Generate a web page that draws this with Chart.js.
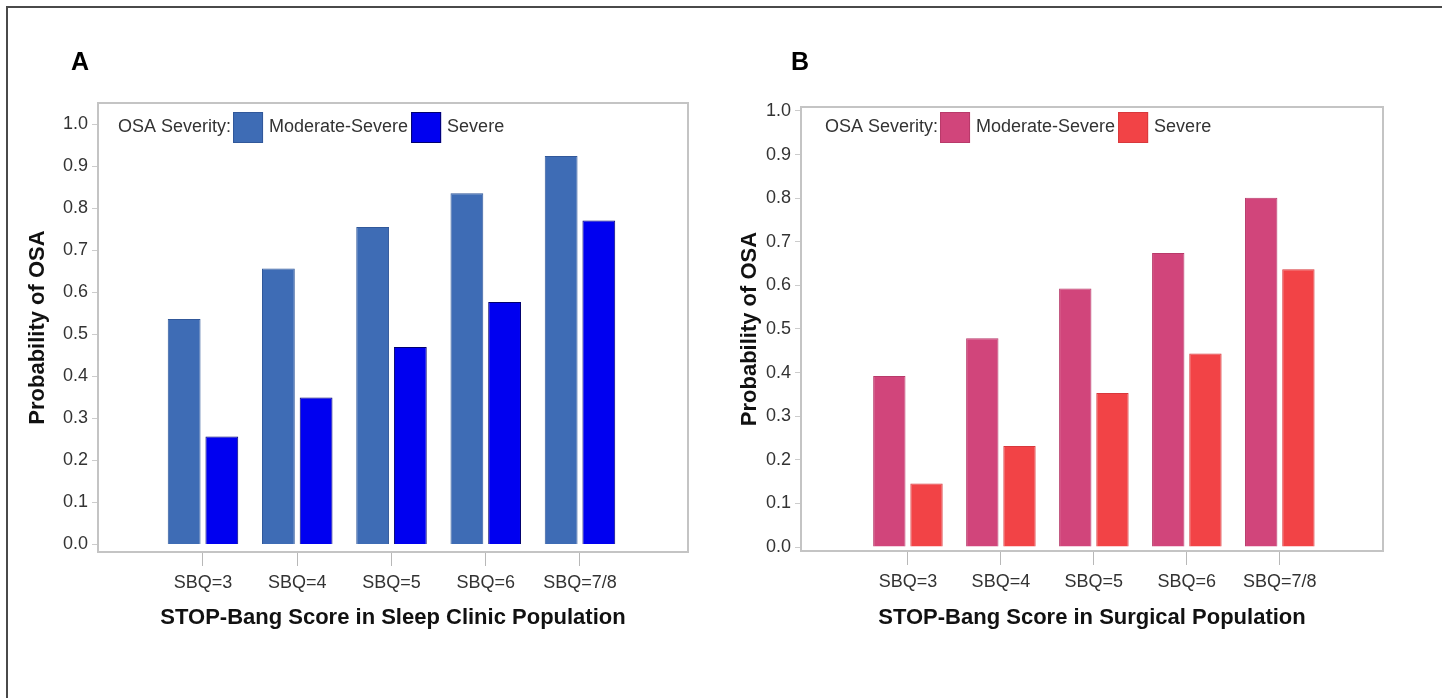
<!DOCTYPE html>
<html>
<head>
<meta charset="utf-8">
<script src="https://cdn.jsdelivr.net/npm/chart.js@4.4.1/dist/chart.umd.min.js"></script>
<style>
  body { margin: 0; background: #fff; width: 1445px; height: 698px; overflow: hidden; position: relative; font-family: "Liberation Sans", Arial, sans-serif; }
  #frame { position: absolute; left: 6px; top: 6px; width: 1434px; height: 700px; border-left: 2px solid #4a4a4a; border-top: 2px solid #4a4a4a; }
  .panel { position: absolute; top: 0; }
  .letter { position: absolute; font-weight: bold; font-size: 25px; line-height: 25px; color: #000; z-index: 2; }
</style>
</head>
<body>
<div id="frame"></div>
<canvas id="chartA" class="panel" style="left:0" width="722" height="698"></canvas>
<canvas id="chartB" class="panel" style="left:722px" width="723" height="698"></canvas>
<div class="letter" style="left:71px;top:49px">A</div>
<div class="letter" style="left:791px;top:49px">B</div>
<script>
const categories = ["SBQ=3", "SBQ=4", "SBQ=5", "SBQ=6", "SBQ=7/8"];
const seriesNames = ["Moderate-Severe", "Severe"];
const legendTitle = "OSA Severity:";
const yTicks = [0.0, 0.1, 0.2, 0.3, 0.4, 0.5, 0.6, 0.7, 0.8, 0.9, 1.0];

// panel A - sleep clinic
const sleepModSevere = [0.537, 0.657, 0.756, 0.836, 0.925];
const sleepSevere = [0.257, 0.350, 0.470, 0.577, 0.771];
// panel B - surgical
const surgModSevere = [0.392, 0.479, 0.593, 0.674, 0.801];
const surgSevere = [0.146, 0.232, 0.353, 0.444, 0.637];

const FONT = '"Liberation Sans", Arial, sans-serif';

const frameBox = {
  id: "frameBox",
  afterDatasetsDraw(chart) {
    const {ctx, chartArea} = chart;
    ctx.save();
    ctx.strokeStyle = "#c4c4c4";
    ctx.lineWidth = 2;
    ctx.strokeRect(chartArea.left, chartArea.top, chartArea.right - chartArea.left, chartArea.bottom - chartArea.top);
    ctx.restore();
  }
};

const severityLegend = {
  id: "severityLegend",
  afterDraw(chart, args, opts) {
    const {ctx, chartArea} = chart;
    ctx.save();
    ctx.font = "18px " + FONT;
    ctx.textBaseline = "middle";
    let x = chartArea.left + opts.offsetX;
    const y = chartArea.top + opts.offsetY;
    ctx.fillStyle = "#333";
    ctx.fillText(legendTitle, x, y);
    x += ctx.measureText(legendTitle).width + 2;
    chart.data.datasets.forEach(ds => {
      ctx.fillStyle = ds.backgroundColor;
      ctx.fillRect(x, y - 15, 30, 31);
      ctx.strokeStyle = ds.borderColor;
      ctx.lineWidth = 1;
      ctx.strokeRect(x + 0.5, y - 14.5, 29, 30);
      x += 36;
      ctx.fillStyle = "#333";
      ctx.fillText(ds.label, x, y);
      x += ctx.measureText(ds.label).width + 3;
    });
    ctx.restore();
  }
};

function makeChart(canvasId, modValues, sevValues, colors, layout) {
  const toPoints = vals => vals.map((v, i) => ({x: i, y: v}));
  return new Chart(document.getElementById(canvasId), {
    type: "bar",
    data: {
      datasets: [
        {
          label: seriesNames[0],
          data: toPoints(modValues),
          backgroundColor: colors.mod,
          borderColor: colors.modBorder,
          borderWidth: 1,
          categoryPercentage: 0.8,
          barPercentage: 0.87
        },
        {
          label: seriesNames[1],
          data: toPoints(sevValues),
          backgroundColor: colors.sev,
          borderColor: colors.sevBorder,
          borderWidth: 1,
          categoryPercentage: 0.8,
          barPercentage: 0.87
        }
      ]
    },
    options: {
      responsive: false,
      animation: false,
      layout: { padding: layout.padding },
      scales: {
        x: {
          type: "linear",
          offset: false,
          min: layout.xMin,
          max: layout.xMax,
          afterBuildTicks: axis => { axis.ticks = categories.map((c, i) => ({value: i})); },
          afterFit: s => { s.height = layout.xHeight; },
          grid: { offset: false, drawOnChartArea: false, tickLength: 14, color: "#b8b8b8" },
          border: { display: false },
          ticks: {
            autoSkip: false,
            maxRotation: 0,
            padding: 6,
            color: "#333",
            font: { family: FONT, size: 18 },
            callback: value => categories[value]
          },
          title: {
            display: true,
            text: layout.xTitle,
            color: "#111",
            padding: 0,
            font: { family: FONT, size: 22, weight: "bold", lineHeight: 1 }
          }
        },
        y: {
          min: layout.yMin,
          max: layout.yMax,
          afterBuildTicks: axis => { axis.ticks = yTicks.map(v => ({value: v})); },
          afterFit: s => { s.width = layout.yWidth; },
          grid: { drawOnChartArea: false, tickLength: 6, color: "#cccccc" },
          border: { display: false },
          ticks: {
            padding: 4,
            color: "#333",
            font: { family: FONT, size: 18 },
            callback: value => value.toFixed(1)
          },
          title: {
            display: true,
            text: "Probability of OSA",
            color: "#111",
            padding: 0,
            font: { family: FONT, size: 22, weight: "bold", lineHeight: 1 }
          }
        }
      },
      plugins: {
        legend: { display: false },
        tooltip: { enabled: false },
        severityLegend: { offsetX: layout.legendX, offsetY: layout.legendY }
      }
    },
    plugins: [frameBox, severityLegend]
  });
}

makeChart("chartA", sleepModSevere, sleepSevere,
  { mod: "#3e6cb5", modBorder: "#31589a", sev: "#0000f0", sevBorder: "#00006e" },
  {
    padding: { left: 27, top: 103, right: 34, bottom: 69 },
    yWidth: 71, xHeight: 77,
    xMin: -1.114, xMax: 5.146, yMin: -0.018, yMax: 1.051,
    legendX: 20, legendY: 24,
    xTitle: "STOP-Bang Score in Sleep Clinic Population"
  });

makeChart("chartB", surgModSevere, surgSevere,
  { mod: "#d1457b", modBorder: "#b83a6a", sev: "#f24346", sevBorder: "#d8383c" },
  {
    padding: { left: 17, top: 107, right: 62, bottom: 69 },
    yWidth: 62, xHeight: 78,
    xMin: -1.15, xMax: 5.11, yMin: -0.009, yMax: 1.009,
    legendX: 24, legendY: 20,
    xTitle: "STOP-Bang Score in Surgical Population"
  });
</script>
</body>
</html>
